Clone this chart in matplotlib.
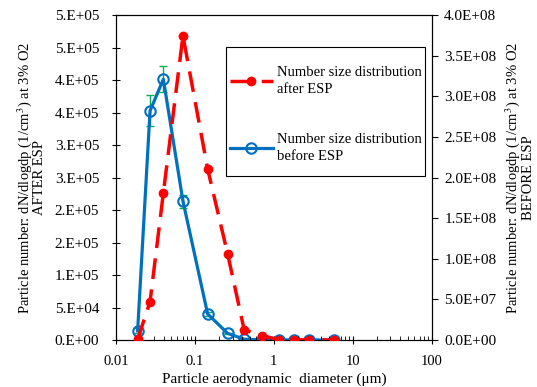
import matplotlib
matplotlib.use('Agg')
import matplotlib.pyplot as plt
from matplotlib.patches import Rectangle
import numpy as np

plt.rcParams['font.family'] = ['Liberation Serif', 'DejaVu Serif']
plt.rcParams['mathtext.fontset'] = 'stix'

# particle aerodynamic diameter (um)
dp = [0.0188, 0.027, 0.0398, 0.0705, 0.145, 0.26, 0.42, 0.71, 1.16, 1.8, 2.77, 5.75]
# number size distribution after ESP (left axis)
after_esp = [1.0e3, 5.9e4, 2.26e5, 4.68e5, 2.63e5, 1.32e5, 1.6e4, 6.8e3, 5e2, 3e2, 2e2, 1e2]
# number size distribution before ESP (right axis)
before_esp = [1.14e7, 2.82e8, 3.21e8, 1.71e8, 3.2e7, 8.2e6, 1.0e6, 3e5, 1e5, 1e5, 1e5, 1e5]
before_err = [3e6, 1.9e7, 1.6e7, 8e6, 2e6, 1e6, 3e5, 1e5, 0, 0, 0, 0]

left_ticks = np.arange(0, 5.01e5, 5e4)
left_labels = ['0.E+00', '5.E+04', '1.E+05', '2.E+05', '2.E+05', '3.E+05',
               '3.E+05', '4.E+05', '4.E+05', '5.E+05', '5.E+05']
right_ticks = np.arange(0, 4.01e8, 5e7)
right_labels = ['0.0E+00', '5.0E+07', '1.0E+08', '1.5E+08', '2.0E+08',
                '2.5E+08', '3.0E+08', '3.5E+08', '4.0E+08']

fig = plt.figure(figsize=(5.37, 3.87), dpi=100)
ax = fig.add_axes([0.216, 0.1214, 0.588, 0.8398])
ax2 = ax.twinx()

l1, = ax.plot(dp, after_esp, color='#FF0000', lw=2.5, ls=(0, (6, 3)), marker='o', ms=6,
              label='Number size distribution\nafter ESP', zorder=3)
ax2.errorbar(dp, before_esp, yerr=before_err, fmt='none', ecolor='#00B050', elinewidth=1,
             capsize=3, zorder=2)
l2, = ax2.plot(dp, before_esp, color='#0070C0', lw=2.3, marker='o', ms=7.5, mfc='none',
               mew=1.5, label='Number size distribution\nbefore ESP', zorder=4)

ax.set_xscale('log')
ax.set_xlim(0.01, 100)
ax.set_xticks([0.01, 0.1, 1, 10, 100])
ax.set_xticklabels(['0.01', '0.1', '1', '10', '100'])
ax.set_ylim(0, 5e5)
ax.set_yticks(left_ticks)
ax.set_yticklabels(left_labels)
ax2.set_ylim(0, 4e8)
ax2.set_yticks(right_ticks)
ax2.set_yticklabels(right_labels)

ax.tick_params(axis='x', which='major', labelsize=10.5, direction='inout', length=6, pad=8)
ax.tick_params(axis='x', which='minor', direction='in', length=3)
ax.tick_params(axis='y', labelsize=11, direction='inout', length=6, pad=9)
ax2.tick_params(axis='y', labelsize=11, direction='out', length=4, pad=5)

ax.set_xlabel('Particle aerodynamic  diameter (μm)', fontsize=11, labelpad=3)
ax.set_ylabel('Particle number: dN/dlogdp (1/cm$^3$) at 3% O2\nAFTER ESP', fontsize=10.5,
              labelpad=6, linespacing=0.95)
ax2.set_ylabel('Particle number: dN/dlogdp (1/cm$^3$) at 3% O2\nBEFORE ESP', fontsize=10.5,
               labelpad=5, linespacing=0.95)

# legend box
ax.add_patch(Rectangle((0.347, 0.5055), 0.631, 0.3965, transform=ax.transAxes,
                       fill=True, facecolor='white', edgecolor='black', lw=0.8, zorder=9))
leg = ax.legend(handles=[l1, l2], loc='upper left', bbox_to_anchor=(0.361, 0.843),
                fontsize=10.5, frameon=False, borderpad=0, borderaxespad=0,
                handlelength=2.95, labelspacing=2.6, handletextpad=0.25)
for t in leg.get_texts():
    t.set_linespacing(1.35)
leg.set_zorder(10)
ax.set_zorder(ax2.get_zorder() + 1)
ax.patch.set_visible(False)

plt.savefig('out.png', dpi=100)
plt.close()
